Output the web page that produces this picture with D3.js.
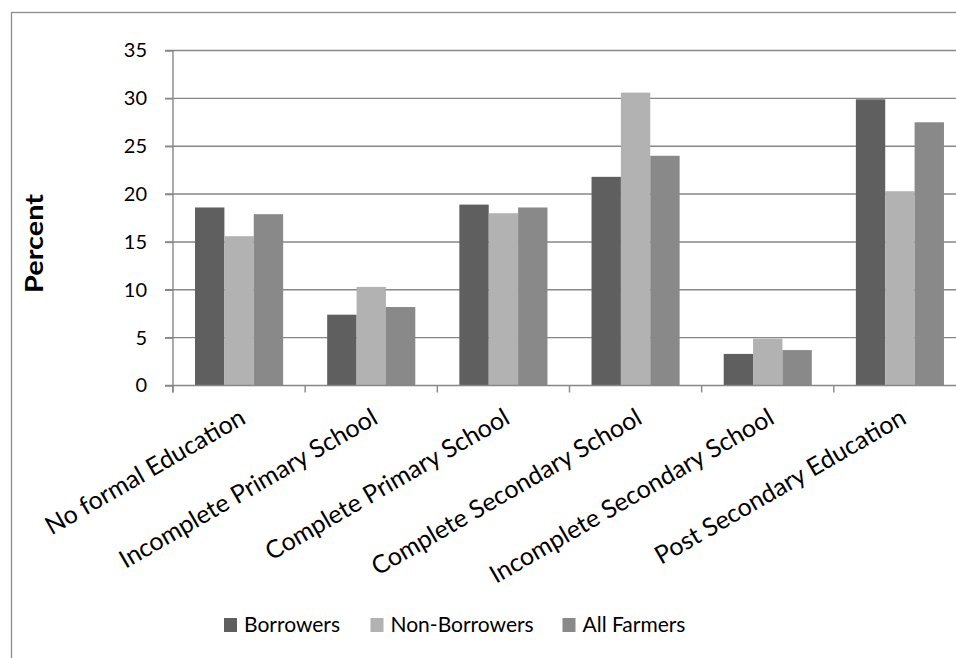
<!DOCTYPE html>
<html>
<head>
<meta charset="utf-8">
<script src="https://cdn.jsdelivr.net/npm/d3@7/dist/d3.min.js"></script>
<style>
  html, body { margin: 0; padding: 0; background: #fff; }
  svg { display: block; font-family: Lato, "Open Sans", sans-serif; }
</style>
</head>
<body>
<svg id="chart" width="956" height="658"></svg>
<script>
const categories = [
  "No formal Education",
  "Incomplete Primary School",
  "Complete Primary School",
  "Complete Secondary School",
  "Incomplete Secondary School",
  "Post Secondary Education"
];
const seriesNames = ["Borrowers", "Non-Borrowers", "All Farmers"];
const borrowers    = [18.6, 7.4, 18.9, 21.8, 3.3, 29.9];
const nonBorrowers = [15.6, 10.3, 18.0, 30.6, 4.9, 20.3];
const allFarmers   = [17.9, 8.2, 18.6, 24.0, 3.7, 27.5];
const yTicks = [0, 5, 10, 15, 20, 25, 30, 35];
const yLabel = "Percent";
const colors = ["#5f5f5f", "#b2b2b2", "#898989"];

const seriesValues = [borrowers, nonBorrowers, allFarmers];
const svg = d3.select("#chart");

// outer border (chart area, cropped at right/bottom)
svg.append("rect")
  .attr("x", 11.5).attr("y", 12.5)
  .attr("width", 1100).attr("height", 800)
  .attr("fill", "none").attr("stroke", "#8c8c8c").attr("stroke-width", 1.3);

const plotLeft = 173, plotRight = 966, plotTop = 50.5, plotBottom = 385.5;

const x = d3.scaleBand().domain(categories).range([plotLeft, plotRight])
  .paddingInner(1/3).paddingOuter(1/6);
const xInner = d3.scaleBand().domain(seriesNames).range([0, x.bandwidth()]);
const y = d3.scaleLinear().domain([0, 35]).range([plotBottom, plotTop]);

const gridColor = "#878787";

// gridlines
svg.append("g").selectAll("line").data(yTicks.filter(t => t > 0)).join("line")
  .attr("x1", plotLeft - 8).attr("x2", plotRight)
  .attr("y1", d => y(d)).attr("y2", d => y(d))
  .attr("stroke", gridColor).attr("stroke-width", 1.4);

// bars
const groups = svg.append("g").selectAll("g").data(categories).join("g")
  .attr("transform", d => `translate(${x(d)},0)`);
groups.selectAll("rect")
  .data((c, i) => seriesNames.map((s, j) => ({ s, j, v: seriesValues[j][i] })))
  .join("rect")
  .attr("x", d => xInner(d.s))
  .attr("width", xInner.bandwidth())
  .attr("y", d => y(d.v))
  .attr("height", d => y(0) - y(d.v))
  .attr("fill", d => colors[d.j]);

// y axis
const yAxis = d3.axisLeft(y).tickValues(yTicks).tickSize(8).tickPadding(18);
const gy = svg.append("g").attr("transform", `translate(${plotLeft},0)`).call(yAxis);
gy.select(".domain").attr("stroke", gridColor).attr("stroke-width", 1.4)
  .attr("d", `M0,${plotTop}V${plotBottom + 7}`);
gy.selectAll(".tick line").attr("stroke", gridColor).attr("stroke-width", 1.4);
gy.selectAll(".tick text").attr("font-size", 20).attr("fill", "#000")
  .attr("font-family", "Lato, 'Open Sans', sans-serif");

// x axis line + ticks at band boundaries
const boundaries = categories.map(c => x(c) - x.step() * x.paddingOuter()).concat([plotRight]);
svg.append("line").attr("x1", plotLeft - 8).attr("x2", plotRight)
  .attr("y1", plotBottom).attr("y2", plotBottom)
  .attr("stroke", gridColor).attr("stroke-width", 1.4);
svg.append("g").selectAll("line").data(boundaries).join("line")
  .attr("x1", d => d).attr("x2", d => d)
  .attr("y1", plotBottom).attr("y2", plotBottom + 7)
  .attr("stroke", gridColor).attr("stroke-width", 1.4);

// category labels
svg.append("g").selectAll("text").data(categories).join("text")
  .attr("transform", d => `translate(${x(d) + x.bandwidth() / 2 + 8},${plotBottom + 37}) rotate(-30)`)
  .attr("text-anchor", "end")
  .attr("font-size", 25)
  .attr("fill", "#000")
  .text(d => d);

// y label
svg.append("text")
  .attr("transform", `translate(43,243.5) rotate(-90)`)
  .attr("text-anchor", "middle")
  .attr("font-size", 24).attr("font-weight", "bold")
  .attr("textLength", 99).attr("lengthAdjust", "spacingAndGlyphs")
  .attr("fill", "#000")
  .text(yLabel);

// legend
const legendX = [224, 370.5, 562.5];
const lg = svg.append("g").selectAll("g").data(seriesNames).join("g")
  .attr("transform", (d, i) => `translate(${legendX[i]},618)`);
lg.append("rect").attr("width", 13).attr("height", 14).attr("fill", (d, i) => colors[i]);
lg.append("text").attr("x", 20).attr("y", 13.5)
  .attr("font-size", 21).attr("fill", "#000").text(d => d);
</script>
</body>
</html>
